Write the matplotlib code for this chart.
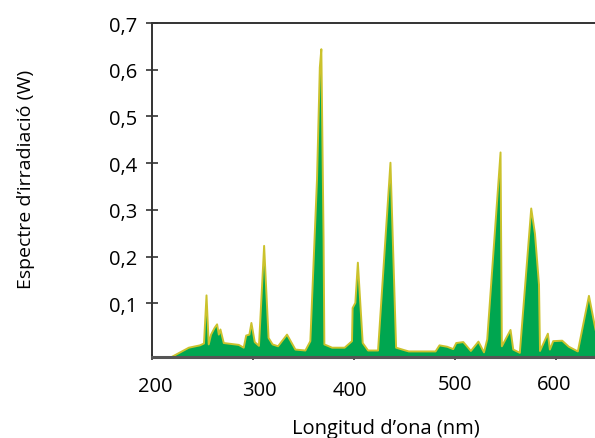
import numpy as np
import matplotlib
matplotlib.use("Agg")
import matplotlib.pyplot as plt
import matplotlib.transforms as mtransforms

plt.rcParams['font.family'] = ['Open Sans', 'DejaVu Sans']

# wavelength (nm) and irradiance (W)
wavelength = [218, 236, 247, 251, 253.5, 255.7, 258, 261.7, 264, 265.7, 267.3, 270.6,
              285.5, 290.4, 292.8, 296, 298, 301.3, 305.5, 310.6, 315, 319, 324.4,
              333.3, 341.6, 351.5, 356.4, 363, 365.8, 367.3, 369.5, 370.3, 378,
              390.4, 397.7, 398.3, 401, 403.5, 408.3, 413.6, 423.5, 435.8, 441.4,
              450.7, 454, 480.5, 484.4, 492, 498, 501, 508, 515.5, 523, 528.5,
              531.7, 544.9, 546.2, 554.8, 557.5, 564, 575.3, 579, 583, 584,
              591.8, 593.8, 597.1, 606, 612.6, 621.5, 632.5, 639, 645]
irradiance = [-0.015, 0.006, 0.011, 0.015, 0.118, 0.013, 0.034, 0.049, 0.056, 0.034, 0.045, 0.016,
              0.012, 0.006, 0.032, 0.034, 0.059, 0.018, 0.010, 0.224, 0.027, 0.013, 0.009,
              0.034, 0.002, 0.0, 0.02, 0.366, 0.606, 0.645, 0.24, 0.013, 0.006,
              0.006, 0.02, 0.091, 0.102, 0.188, 0.016, 0.0, 0.0, 0.402, 0.006,
              0.0, -0.002, -0.002, 0.011, 0.008, 0.003, 0.016, 0.018, -0.001, 0.019, -0.004,
              0.024, 0.424, 0.009, 0.044, 0.002, -0.005, 0.304, 0.25, 0.141, -0.001,
              0.036, 0.002, 0.02, 0.021, 0.008, -0.002, 0.117, 0.045, 0.0]

xticks = [200, 300, 400, 500, 600]
yticks = [0.1, 0.2, 0.3, 0.4, 0.5, 0.6, 0.7]

ymin = -0.015

fig = plt.figure(figsize=(5.95, 4.39), dpi=100)
ax = fig.add_axes([0.2555, 0.1845, 0.7445, 0.7608])

ax.fill_between(wavelength, irradiance, ymin, facecolor='#00a650',
                edgecolor='#cbc22c', linewidth=1.4, zorder=2)

ax.set_xlim(200, 639)
ax.set_ylim(ymin, 0.7)

ax.spines['right'].set_visible(False)
ax.spines['left'].set_color('#333333')
ax.spines['left'].set_linewidth(1.4)
ax.spines['top'].set_color('#333333')
ax.spines['top'].set_linewidth(1.4)
ax.spines['bottom'].set_color('#555555')
ax.spines['bottom'].set_linewidth(2.2)
for s in ax.spines.values():
    s.set_zorder(3)

ax.set_yticks(yticks)
ax.set_yticklabels([f"{v:.1f}".replace('.', ',') for v in yticks], fontsize=14.5)
ax.set_xticks(xticks)
ax.set_xticklabels([str(v) for v in xticks], fontsize=14.5)
ax.tick_params(axis='y', direction='inout', length=9, width=1.2, color='#333333', pad=6)
ax.tick_params(axis='x', direction='inout', length=5, width=1.2, color='#333333', pad=11)

# the labels under the x axis sit a little unevenly in the reference
shifts = [(3, 0), (6, -4), (-4, -4), (0, 2), (-2, 2)]
for lab, (dx, dy) in zip(ax.get_xticklabels(), shifts):
    off = mtransforms.ScaledTranslation(dx / 100, dy / 100, fig.dpi_scale_trans)
    lab.set_transform(lab.get_transform() + off)

ax.set_ylabel("Espectre d’irradiació (W)", fontsize=14)
ax.yaxis.set_label_coords(-0.265, 0.535)
ax.set_xlabel("Longitud d’ona (nm)", fontsize=14.5)
ax.xaxis.set_label_coords(0.528, -0.182)

fig.savefig("out.png", dpi=100)
